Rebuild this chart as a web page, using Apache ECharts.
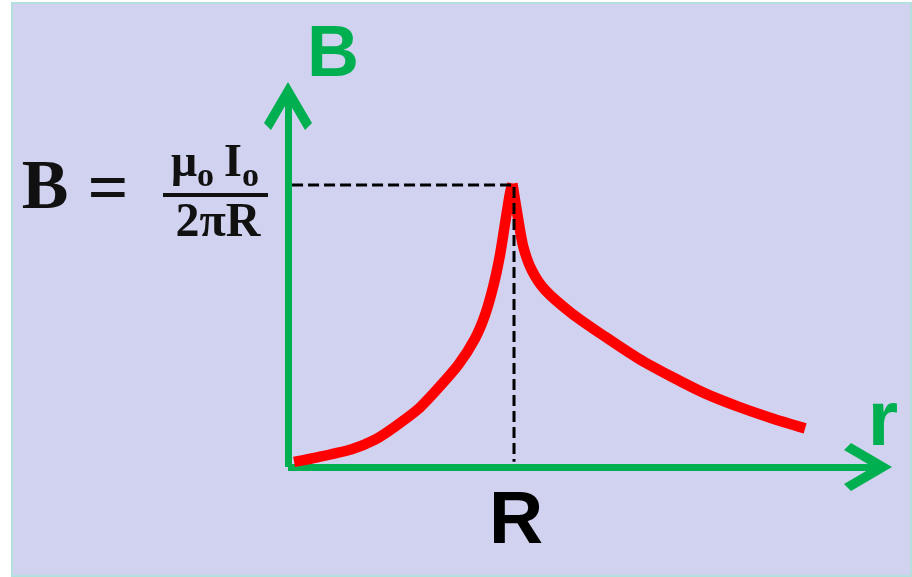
<!DOCTYPE html>
<html>
<head>
<meta charset="utf-8">
<script src="https://cdn.jsdelivr.net/npm/echarts@6.0.0/dist/echarts.min.js"></script>
<style>
  html, body { margin: 0; padding: 0; background: #fff; }
  #chart { width: 912px; height: 577px; }
</style>
</head>
<body>
<div id="chart"></div>
<script>
// r in units of R, B in units of mu0*I0/(2*pi*R)
const innerR = [0.027, 0.134, 0.282, 0.385, 0.473, 0.577, 0.665, 0.754, 0.827, 0.872, 0.908, 0.938, 0.960, 0.982, 0.993]
const innerB = [0.018, 0.035, 0.063, 0.097, 0.143, 0.206, 0.280, 0.363, 0.455, 0.540, 0.640, 0.752, 0.862, 0.970, 1.005]
const outerR = [0.993, 1.019, 1.041, 1.078, 1.137, 1.255, 1.403, 1.550, 1.698, 1.845, 1.992, 2.140, 2.288]
const outerB = [1.005, 0.876, 0.781, 0.699, 0.628, 0.545, 0.462, 0.385, 0.320, 0.261, 0.214, 0.173, 0.137]
// dashed guide: from the B axis across to r = R, then down to the r axis
const guideR = [0.018, 1, 1]
const guideB = [1, 1, 0.019]

const green = '#00b050'
// open chevron arrow head, pointing up (rotated by echarts along the axis)
const chevron = 'path://M24 0 L48 41 L41 48 L24 19 L7 48 L0 41 Z'

const zip = (xs, ys) => xs.map((x, i) => [x, ys[i]])

const chart = echarts.init(document.getElementById('chart'))

const axisCommon = {
  type: 'value',
  min: 0,
  axisLine: {
    show: true,
    symbol: ['none', chevron],
    symbolSize: [48, 48],
    symbolOffset: [0, -9],
    lineStyle: { color: green, width: 7, cap: 'butt' }
  },
  axisTick: { show: false },
  axisLabel: { show: false },
  splitLine: { show: false }
}

const curveStyle = { color: '#ff0000', width: 10.5, cap: 'butt', join: 'round' }

chart.setOption({
  animation: false,
  backgroundColor: '#ffffff',
  grid: { left: 288, right: 35, top: 97, bottom: 110, containLabel: false },
  xAxis: Object.assign({}, axisCommon, { max: 2.606 }),
  yAxis: Object.assign({}, axisCommon, { max: 1.312 }),
  graphic: [
    {
      type: 'rect', z: -10, silent: true,
      shape: { x: 12, y: 3, width: 899, height: 573 },
      style: { fill: '#d1d2ef', stroke: '#b3dfdc', lineWidth: 2 }
    },
    {
      type: 'text', x: 333, y: 56, silent: true,
      style: { text: 'B', fill: green, font: 'bold 72px "Liberation Sans", Arial, sans-serif', align: 'center', verticalAlign: 'middle' }
    },
    {
      type: 'text', x: 883, y: 423, silent: true,
      style: { text: 'r', fill: green, font: 'bold 78px "Liberation Sans", Arial, sans-serif', align: 'center', verticalAlign: 'middle' }
    },
    {
      type: 'text', x: 516, y: 522, silent: true,
      style: { text: 'R', fill: '#000', font: 'bold 75px "Liberation Sans", Arial, sans-serif', align: 'center', verticalAlign: 'middle' }
    },
    // formula B = mu0 I0 / (2 pi R)
    {
      type: 'text', x: 45, y: 190, silent: true,
      style: { text: 'B', fill: '#111', font: 'bold 70px "Liberation Serif", serif', align: 'center', verticalAlign: 'middle' }
    },
    {
      type: 'text', x: 108, y: 192, silent: true,
      style: { text: '=', fill: '#111', font: 'bold 72px "Liberation Serif", serif', align: 'center', verticalAlign: 'middle' }
    },
    {
      type: 'text', x: 215, y: 168, silent: true,
      style: {
        text: '{m|μ}{s|o}   {m|I}{s|o}',
        align: 'center', verticalAlign: 'middle',
        rich: {
          m: { fill: '#111', fontFamily: 'Liberation Serif', fontWeight: 'bold', fontSize: 46, verticalAlign: 'bottom', padding: [0, 0, 7, 0] },
          s: { fill: '#111', fontFamily: 'Liberation Serif', fontWeight: 'bold', fontSize: 34, verticalAlign: 'bottom' }
        }
      }
    },
    {
      type: 'rect', silent: true,
      shape: { x: 163, y: 193, width: 105, height: 4 },
      style: { fill: '#111' }
    },
    {
      type: 'text', x: 218, y: 224, silent: true,
      style: { text: '2πR', fill: '#111', font: 'bold 48px "Liberation Serif", serif', align: 'center', verticalAlign: 'middle' }
    }
  ],
  series: [
    {
      type: 'line', data: zip(innerR, innerB), smooth: 0.25, symbol: 'none', z: 3,
      lineStyle: curveStyle
    },
    {
      type: 'line', data: zip(outerR, outerB), smooth: 0.25, symbol: 'none', z: 3,
      lineStyle: curveStyle
    },
    {
      type: 'line', data: zip(guideR, guideB), symbol: 'none', z: 4,
      lineStyle: { color: '#000', width: 3, type: [11, 5], cap: 'butt' }
    }
  ]
})

window.addEventListener('resize', () => chart.resize())
</script>
</body>
</html>
